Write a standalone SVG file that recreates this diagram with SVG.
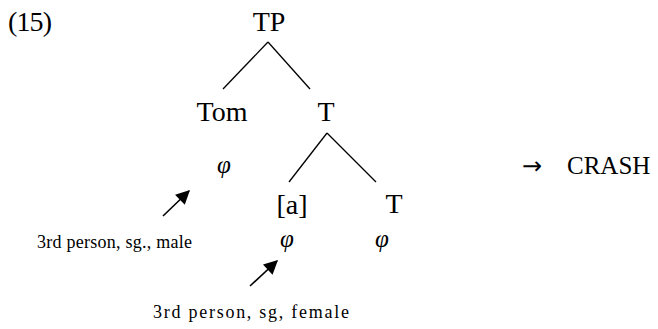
<svg xmlns="http://www.w3.org/2000/svg" width="658" height="329" viewBox="0 0 658 329">
<style>
.t{font-family:"Liberation Serif","DejaVu Serif",serif;fill:#000}
.big{font-size:28px}
.sm{font-size:18px}
.phi{font-size:25px;font-style:italic}
.e{stroke:#000;stroke-width:1.3;fill:none}
.ar{stroke:#000;stroke-width:1.6;fill:none}
</style>
<defs>
<marker id="ahb" viewBox="0 0 10 10" refX="9" refY="5" markerWidth="18" markerHeight="14" markerUnits="userSpaceOnUse" orient="auto">
<path d="M0,0 L10,5 L0,10 z" fill="#000"/>
</marker>
</defs>
<text class="t big" x="8" y="31" textLength="44">(15)</text>
<g id="connectors">
<line class="e" x1="268" y1="42" x2="223" y2="89"/>
<line class="e" x1="268" y1="42" x2="310" y2="89"/>
<line class="e" x1="327" y1="133" x2="289" y2="182"/>
<line class="e" x1="327" y1="133" x2="376" y2="182"/>
<line class="ar" x1="163" y1="216" x2="189" y2="191" marker-end="url(#ahb)"/>
<line class="ar" x1="250" y1="286" x2="277" y2="261" marker-end="url(#ahb)"/>
</g>
<g id="TP"><text class="t big" x="269" y="31" text-anchor="middle">TP</text></g>
<g id="Tom"><text class="t big" x="222" y="121" text-anchor="middle">Tom</text>
<text class="t phi" x="224" y="173" text-anchor="middle">φ</text></g>
<g id="T1"><text class="t big" x="326" y="121" text-anchor="middle">T</text></g>
<g id="a"><text class="t big" x="292" y="214" text-anchor="middle">[a]</text>
<text class="t phi" x="287" y="247" text-anchor="middle">φ</text></g>
<g id="T2"><text class="t big" x="394" y="213" text-anchor="middle">T</text>
<text class="t phi" x="382" y="247" text-anchor="middle">φ</text></g>
<g id="male"><text class="t sm" x="37" y="248" textLength="155">3rd person, sg., male</text></g>
<g id="female"><text class="t sm" x="153" y="318" textLength="196">3rd person, sg, female</text></g>
<g id="crash"><text style="font-family:'DejaVu Sans',sans-serif;font-size:24px" x="522" y="174">→</text>
<text class="t" style="font-size:25px" x="567" y="174">CRASH</text></g>
</svg>
